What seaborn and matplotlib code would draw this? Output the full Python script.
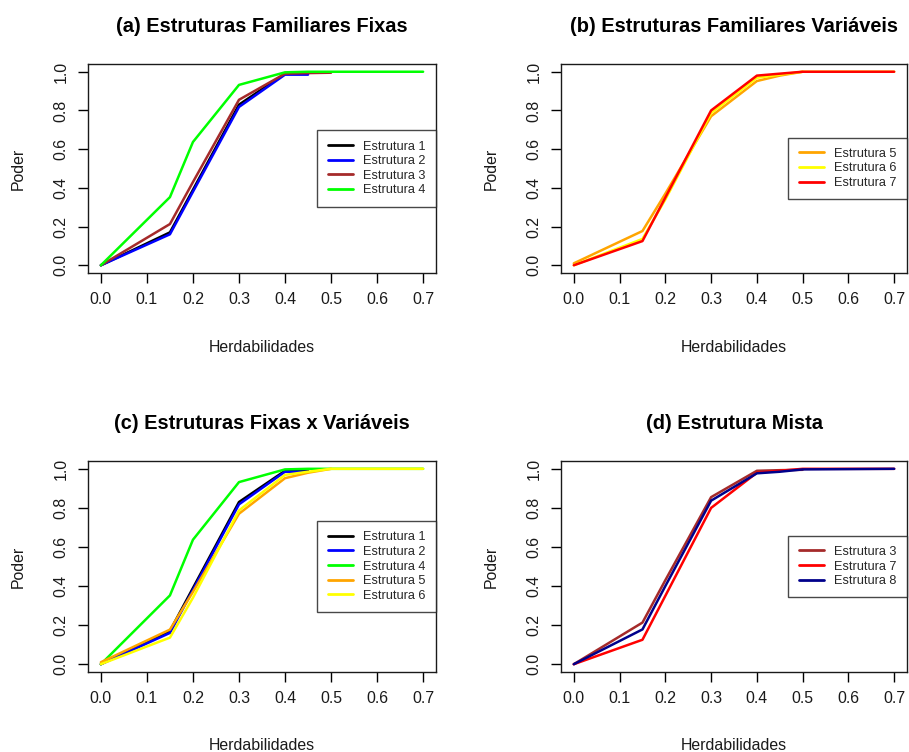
import numpy as np
import pandas as pd
import seaborn as sns
import matplotlib as mpl
import matplotlib.pyplot as plt

sns.set_theme(style="ticks")
mpl.rcParams["font.family"] = ["Liberation Sans", "DejaVu Sans"]
mpl.rcParams["figure.dpi"] = 100

# heritabilities (x) and power (y) per structure, NaN where a curve stops
herdabilidades = [0.0, 0.15, 0.2, 0.3, 0.4, 0.45, 0.5, 0.7]
estrutura_1 = [0.0, 0.170, 0.390, 0.830, 0.990, 0.990, np.nan, np.nan]
estrutura_2 = [0.0, 0.160, 0.380, 0.818, 0.985, 0.985, np.nan, np.nan]
estrutura_3 = [0.0, 0.213, 0.430, 0.855, 0.990, 0.993, 0.995, np.nan]
estrutura_4 = [0.0, 0.352, 0.637, 0.932, 0.997, 1.000, 1.000, 1.000]
estrutura_5 = [0.01, 0.177, 0.370, 0.770, 0.952, 0.980, 1.000, np.nan]
estrutura_6 = [0.0, 0.136, 0.340, 0.787, 0.969, 0.985, 1.000, 1.000]
estrutura_7 = [0.0, 0.125, 0.350, 0.800, 0.980, 0.990, 1.000, 1.000]
estrutura_8 = [0.0, 0.178, 0.400, 0.837, 0.977, 0.985, 0.997, 1.000]

nomes = ["Estrutura %d" % i for i in range(1, 9)]
valores = [estrutura_1, estrutura_2, estrutura_3, estrutura_4,
           estrutura_5, estrutura_6, estrutura_7, estrutura_8]
cores = dict(zip(nomes, ["#000000", "#0000FF", "#A52A2A", "#00FF00",
                         "#FFA500", "#FFFF00", "#FF0000", "#00008B"]))

titulos = [
    "(a) Estruturas Familiares Fixas",
    "(b) Estruturas Familiares Variáveis",
    "(c) Estruturas Fixas x Variáveis",
    "(d) Estrutura Mista",
]
grupos = [
    ["Estrutura 1", "Estrutura 2", "Estrutura 3", "Estrutura 4"],
    ["Estrutura 5", "Estrutura 6", "Estrutura 7"],
    ["Estrutura 1", "Estrutura 2", "Estrutura 4", "Estrutura 5", "Estrutura 6"],
    ["Estrutura 3", "Estrutura 7", "Estrutura 8"],
]
xticks = [0.0, 0.1, 0.2, 0.3, 0.4, 0.5, 0.6, 0.7]
yticks = [0.0, 0.2, 0.4, 0.6, 0.8, 1.0]

rows = []
for nome, ys in zip(nomes, valores):
    for h, p in zip(herdabilidades, ys):
        if not np.isnan(p):
            rows.append({"Herdabilidades": h, "Poder": p, "Estrutura": nome})
df = pd.DataFrame(rows)

fig = plt.figure(figsize=(9.09, 7.52))
W, H = 909, 752
# axes boxes in pixels: left, top, right, bottom
caixas = [(88, 64, 436, 273), (561, 64, 907, 273),
          (88, 461, 436, 672), (561, 461, 907, 672)]

for titulo, grupo, (l, t, r, b) in zip(titulos, grupos, caixas):
    ax = fig.add_axes([l / W, 1 - b / H, (r - l) / W, (b - t) / H])
    sub = df[df["Estrutura"].isin(grupo)]
    sns.lineplot(data=sub, x="Herdabilidades", y="Poder", hue="Estrutura",
                 hue_order=grupo, palette=cores, estimator=None, sort=True,
                 linewidth=1.8, ax=ax)
    ax.set_xlim(-0.028, 0.728)
    ax.set_ylim(-0.04, 1.04)
    ax.set_xticks(xticks)
    ax.set_xticklabels(["%.1f" % v for v in xticks])
    ax.set_yticks(yticks)
    ax.set_yticklabels(["%.1f" % v for v in yticks])
    ax.tick_params(axis="both", direction="out", length=7, width=1,
                   pad=7, labelsize=11.4, colors="black", labelcolor="#1a1a1a")
    ax.tick_params(axis="y", labelrotation=90)
    for lab in ax.get_yticklabels():
        lab.set_va("center")
    for s in ax.spines.values():
        s.set_visible(True)
        s.set_color("#1a1a1a")
        s.set_linewidth(1.0)
    ax.set_xlabel("Herdabilidades", fontsize=11.4, color="#1a1a1a")
    ax.set_ylabel("Poder", fontsize=11.4, color="#1a1a1a")
    ax.xaxis.set_label_coords(0.5, -74 / (b - t))
    ax.xaxis.label.set_va("center")
    ax.yaxis.set_label_coords(-70 / (r - l), 0.5)
    ax.yaxis.label.set_va("center")
    ax.set_title(titulo, fontsize=14.4, fontweight="bold", y=1 + 37 / (b - t),
                 pad=0, va="center", color="black")
    sns.move_legend(ax, "center right", bbox_to_anchor=(1.0, 0.5),
                    borderaxespad=0, title=None, frameon=True, fancybox=False,
                    edgecolor="#1a1a1a", fontsize=9.2, handlelength=2.0,
                    handletextpad=0.8, labelspacing=0.2, borderpad=0.8)
    leg = ax.get_legend()
    leg.get_frame().set_linewidth(1.0)
    for hnd in leg.legend_handles:
        hnd.set_linewidth(2.0)

fig.savefig("out.png", dpi=100)
